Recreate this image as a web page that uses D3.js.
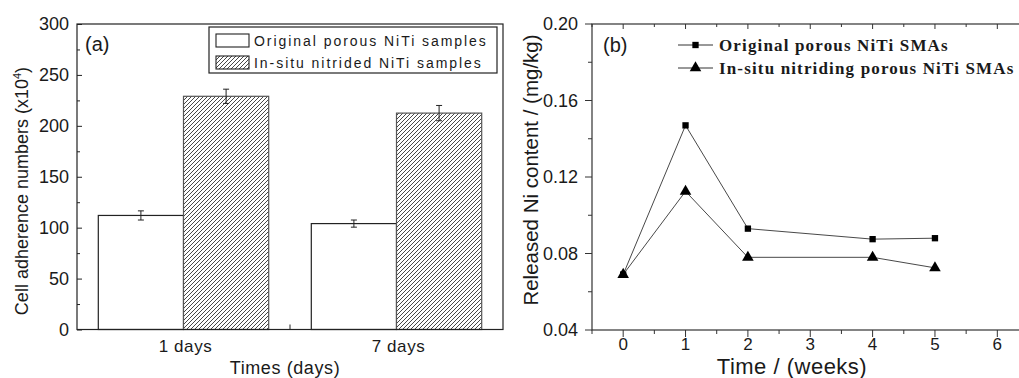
<!DOCTYPE html>
<html>
<head>
<meta charset="utf-8">
<script src="https://cdn.jsdelivr.net/npm/d3@7"></script>
<style>
  html, body { margin: 0; padding: 0; background: #fff; }
  svg { display: block; }
  text { fill: #1a1a1a; }
</style>
</head>
<body>
<script>
// Panel (a): cell adherence bar chart
const dayCategories = ["1 days", "7 days"];
const barSeriesNames = ["Original porous NiTi samples", "In-situ nitrided NiTi samples"];
const originalAdherence = [112, 104];
const originalAdherenceErr = [4.5, 3.5];
const nitridedAdherence = [229, 212.5];
const nitridedAdherenceErr = [7, 7.5];
const adherenceTicks = [0, 50, 100, 150, 200, 250, 300];

// Panel (b): released Ni line chart
const lineSeriesNames = ["Original porous NiTi SMAs", "In-situ nitriding porous NiTi SMAs"];
const weeks = [0, 1, 2, 4, 5];
const originalNi = [0.069, 0.147, 0.093, 0.0875, 0.088];
const nitridedNi = [0.069, 0.1125, 0.078, 0.078, 0.0725];
const weekTicks = [0, 1, 2, 3, 4, 5, 6];
const niTicks = [0.04, 0.08, 0.12, 0.16, 0.20];

const W = 1019, H = 378;
const svg = d3.select("body").append("svg").attr("width", W).attr("height", H)
  .style("font-family", "Arial, 'Liberation Sans', sans-serif");

const defs = svg.append("defs");
const hatch = defs.append("pattern").attr("id", "hatch")
  .attr("patternUnits", "userSpaceOnUse").attr("width", 4).attr("height", 4);
hatch.append("rect").attr("width", 4).attr("height", 4).attr("fill", "#fff");
hatch.append("path").attr("d", "M-1,1 l2,-2 M0,4 l4,-4 M3,5 l2,-2")
  .attr("stroke", "#333").attr("stroke-width", 0.9);

// ---------- Panel (a) ----------
const A = { left: 77, right: 503, top: 24, bottom: 329.5 };
const ga = svg.append("g");
const xa = d3.scaleBand().domain(dayCategories).range([A.left, A.right]);
// the two bars of a group fill the middle 80% of each category band
const xsub = d3.scaleBand().domain([0, 1])
  .range([0.1 * xa.bandwidth(), 0.9 * xa.bandwidth()]).padding(0);
const ya = d3.scaleLinear().domain([0, 300]).range([A.bottom, A.top]);

const barData = [];
dayCategories.forEach((c, i) => {
  barData.push({ cat: c, s: 0, v: originalAdherence[i], e: originalAdherenceErr[i] });
  barData.push({ cat: c, s: 1, v: nitridedAdherence[i], e: nitridedAdherenceErr[i] });
});

ga.selectAll("rect.bar").data(barData).join("rect").attr("class", "bar")
  .attr("x", d => xa(d.cat) + xsub(d.s))
  .attr("width", xsub.bandwidth())
  .attr("y", d => ya(d.v))
  .attr("height", d => ya(0) - ya(d.v))
  .attr("fill", d => d.s === 0 ? "#fff" : "url(#hatch)")
  .attr("stroke", d => d.s === 0 ? "#222" : "#555")
  .attr("stroke-width", 1.2);

// error bars
const eb = ga.selectAll("g.err").data(barData).join("g").attr("class", "err")
  .attr("stroke", "#222").attr("stroke-width", 1);
eb.append("line")
  .attr("x1", d => xa(d.cat) + xsub(d.s) + xsub.bandwidth() / 2)
  .attr("x2", d => xa(d.cat) + xsub(d.s) + xsub.bandwidth() / 2)
  .attr("y1", d => ya(d.v - d.e)).attr("y2", d => ya(d.v + d.e));
[-1, 1].forEach(sg => {
  eb.append("line")
    .attr("x1", d => xa(d.cat) + xsub(d.s) + xsub.bandwidth() / 2 - 3)
    .attr("x2", d => xa(d.cat) + xsub(d.s) + xsub.bandwidth() / 2 + 3)
    .attr("y1", d => ya(d.v + sg * d.e)).attr("y2", d => ya(d.v + sg * d.e));
});

// frame
ga.append("rect").attr("x", A.left).attr("y", A.top)
  .attr("width", A.right - A.left).attr("height", A.bottom - A.top)
  .attr("fill", "none").attr("stroke", "#222").attr("stroke-width", 1.2);

// y axis (ticks inward)
const yAxisA = ga.append("g").attr("transform", `translate(${A.left},0)`)
  .call(d3.axisRight(ya).tickValues(d3.range(0, 301, 25)).tickSize(5).tickFormat(""));
yAxisA.select(".domain").remove();
yAxisA.selectAll(".tick line").attr("stroke", "#222")
  .attr("x2", d => d % 50 === 0 ? 5 : 3);
ga.selectAll("text.ya").data(adherenceTicks).join("text").attr("class", "ya")
  .attr("x", A.left - 8).attr("y", d => ya(d)).attr("dy", "0.35em")
  .attr("text-anchor", "end").attr("font-size", 18).text(d => d);

// x axis
ga.append("line").attr("x1", (A.left + A.right) / 2).attr("x2", (A.left + A.right) / 2)
  .attr("y1", A.bottom).attr("y2", A.bottom - 5).attr("stroke", "#222");
ga.selectAll("text.xa").data(dayCategories).join("text").attr("class", "xa")
  .attr("x", d => xa(d) + xa.bandwidth() / 2 + 2).attr("y", 352)
  .attr("text-anchor", "middle").attr("font-size", 17).attr("letter-spacing", 0.6).text(d => d);
ga.append("text").attr("x", 285).attr("y", 374).attr("text-anchor", "middle")
  .attr("font-size", 18).attr("letter-spacing", 0.6).text("Times (days)");

// y title
const yt = ga.append("text").attr("transform", `translate(28,${(62 + 320) / 2}) rotate(-90)`)
  .attr("text-anchor", "middle").attr("font-size", 18);
yt.append("tspan").text("Cell adherence numbers (x10");
yt.append("tspan").attr("font-size", 11).attr("dy", -7).text("4");
yt.append("tspan").attr("dy", 7).text(")");

ga.append("text").attr("x", 85).attr("y", 51).attr("font-size", 20).text("(a)");

// legend (a)
const la = ga.append("g");
la.append("rect").attr("x", 209).attr("y", 27).attr("width", 288).attr("height", 46)
  .attr("fill", "#fff").attr("stroke", "#222").attr("stroke-width", 1.2);
barSeriesNames.forEach((n, i) => {
  la.append("rect").attr("x", 216).attr("y", 34 + i * 22).attr("width", 33).attr("height", 13)
    .attr("fill", i === 0 ? "#fff" : "url(#hatch)").attr("stroke", "#222").attr("stroke-width", 1.1);
  la.append("text").attr("x", 254).attr("y", 46 + i * 22).attr("font-size", 14)
    .attr("letter-spacing", 1.95).text(n);
});

// ---------- Panel (b) ----------
const B = { left: 592, right: 1028.5, top: 24, bottom: 330 };
const gb = svg.append("g");
const xb = d3.scaleLinear().domain([-0.5, 6.5]).range([B.left, B.right]);
const yb = d3.scaleLinear().domain([0.04, 0.20]).range([B.bottom, B.top]);

gb.append("rect").attr("x", B.left).attr("y", B.top)
  .attr("width", B.right - B.left).attr("height", B.bottom - B.top)
  .attr("fill", "none").attr("stroke", "#333").attr("stroke-width", 1.2);

// left ticks (outward)
const minorY = d3.range(0.04, 0.2001, 0.02);
gb.selectAll("line.yt").data(minorY).join("line").attr("class", "yt")
  .attr("x1", (d, i) => B.left - (i % 2 === 0 ? 7 : 4)).attr("x2", B.left)
  .attr("y1", d => yb(d)).attr("y2", d => yb(d)).attr("stroke", "#333");
gb.selectAll("text.yb").data(niTicks).join("text").attr("class", "yb")
  .attr("x", 578).attr("y", d => yb(d)).attr("dy", "0.35em")
  .attr("text-anchor", "end").attr("font-size", 18).text(d => d.toFixed(2));

// bottom ticks (outward) and top ticks (inward)
const minorX = d3.range(-0.5, 6.51, 0.5);
gb.selectAll("line.xt").data(minorX).join("line").attr("class", "xt")
  .attr("x1", d => xb(d)).attr("x2", d => xb(d))
  .attr("y1", B.bottom).attr("y2", d => B.bottom + (Number.isInteger(d) ? 7 : 4)).attr("stroke", "#333");
gb.selectAll("line.xtt").data(minorX).join("line").attr("class", "xtt")
  .attr("x1", d => xb(d)).attr("x2", d => xb(d))
  .attr("y1", B.top).attr("y2", d => B.top + (Number.isInteger(d) ? 5 : 3)).attr("stroke", "#333");
gb.selectAll("text.xb").data(weekTicks).join("text").attr("class", "xb")
  .attr("x", d => xb(d)).attr("y", 350).attr("text-anchor", "middle")
  .attr("font-size", 17).text(d => d);

gb.append("text").attr("x", 792).attr("y", 374).attr("text-anchor", "middle")
  .attr("font-size", 22).attr("letter-spacing", 0.5).text("Time / (weeks)");
gb.append("text").attr("transform", `translate(538,${(33 + 307) / 2}) rotate(-90)`)
  .attr("text-anchor", "middle").attr("font-size", 20.5).text("Released Ni content / (mg/kg)");
gb.append("text").attr("x", 603).attr("y", 52).attr("font-size", 20).text("(b)");

// lines
const line = d3.line().x(d => xb(d[0])).y(d => yb(d[1]));
const seriesB = [
  { name: lineSeriesNames[0], pts: weeks.map((w, i) => [w, originalNi[i]]), sym: d3.symbolSquare, size: 40 },
  { name: lineSeriesNames[1], pts: weeks.map((w, i) => [w, nitridedNi[i]]), sym: d3.symbolTriangle, size: 58 }
];
seriesB.forEach(s => {
  gb.append("path").attr("d", line(s.pts)).attr("fill", "none")
    .attr("stroke", "#333").attr("stroke-width", 0.9);
  gb.selectAll(null).data(s.pts).join("path")
    .attr("transform", d => `translate(${xb(d[0])},${yb(d[1])})`)
    .attr("d", d3.symbol().type(s.sym).size(s.size)).attr("fill", "#000");
});

// legend (b)
seriesB.forEach((s, i) => {
  const yy = 45 + i * 23;
  gb.append("line").attr("x1", 678).attr("x2", 713).attr("y1", yy).attr("y2", yy)
    .attr("stroke", "#333").attr("stroke-width", 1);
  gb.append("path").attr("transform", `translate(695.5,${yy})`)
    .attr("d", d3.symbol().type(s.sym).size(s.size)).attr("fill", "#000");
  gb.append("text").attr("x", 719).attr("y", yy + 6)
    .attr("font-family", "'Liberation Serif', 'Times New Roman', serif")
    .attr("font-weight", "bold").attr("font-size", 17).attr("letter-spacing", 1.15).text(s.name);
});
</script>
</body>
</html>
